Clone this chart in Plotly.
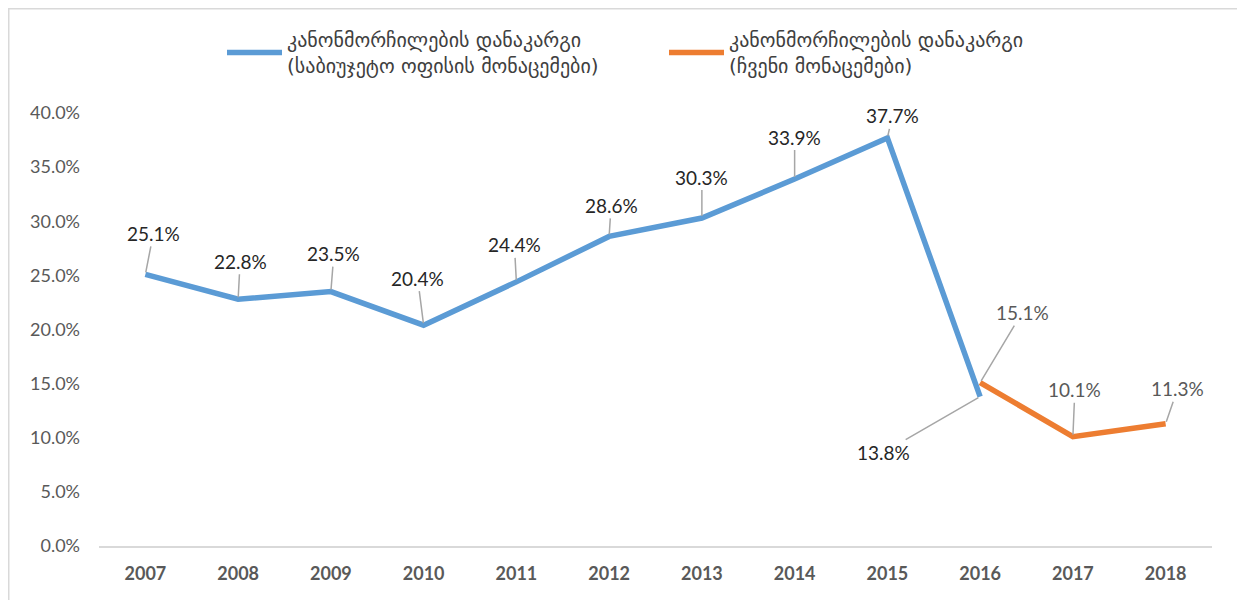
import plotly.graph_objects as go

years = ["2007", "2008", "2009", "2010", "2011", "2012", "2013", "2014", "2015", "2016", "2017", "2018"]
budget_years = years[:10]
budget_vals = [25.1, 22.8, 23.5, 20.4, 24.4, 28.6, 30.3, 33.9, 37.7, 13.8]
our_years = years[9:]
our_vals = [15.1, 10.1, 11.3]

name_budget = "კანონმორჩილების დანაკარგი<br>(საბიუჯეტო ოფისის მონაცემები)"
name_our = "კანონმორჩილების დანაკარგი<br>(ჩვენი მონაცემები)"

# label offsets (pixels) for leader-line data labels
budget_off = [(8, -41), (2, -38), (3, -38), (-6, -47), (-2, -37), (2, -31), (0, -41), (0, -42), (5, -22), (-97, 56)]
our_off = [(42, -70), (2, -47), (12, -35)]

BLUE = "#5B9BD5"
ORANGE = "#ED7D31"

# page body has an 8px default margin; the figure itself starts at (8, 8)
L, T, PW, PH = 91, 105, 1113, 433

fig = go.Figure()
fig.add_trace(go.Scatter(x=budget_years, y=budget_vals, mode="lines", name=name_budget,
                         line=dict(color=BLUE, width=5.5), hoverinfo="skip"))
fig.add_trace(go.Scatter(x=our_years, y=our_vals, mode="lines", name=name_our,
                         line=dict(color=ORANGE, width=5.5), hoverinfo="skip"))

label_font = "Lato, Open Sans, sans-serif"
for (x, y), (dx, dy) in zip(zip(budget_years, budget_vals), budget_off):
    fig.add_annotation(x=years.index(x), y=y, ax=dx, ay=dy, text=f"{y:.1f}%", showarrow=True,
                       arrowhead=0, arrowwidth=1.5, arrowcolor="#A6A6A6", standoff=2,
                       font=dict(family=label_font, size=19, color="#262626"))
for (x, y), (dx, dy) in zip(zip(our_years, our_vals), our_off):
    fig.add_annotation(x=years.index(x), y=y, ax=dx, ay=dy, text=f"{y:.1f}%", showarrow=True,
                       arrowhead=0, arrowwidth=1.5, arrowcolor="#A6A6A6", standoff=2,
                       font=dict(family=label_font, size=19, color="#595959"))

# chart frame
fig.add_shape(type="rect", xref="paper", yref="paper",
              x0=(0.75 - L) / PW, x1=(1231 - L) / PW,
              y0=(T + PH - 700) / PH, y1=(T + PH - 0.75) / PH,
              line=dict(color="#D9D9D9", width=1.5), layer="below")

fig.update_layout(
    width=1245, height=600,
    margin=dict(l=L, r=1245 - L - PW, t=T, b=600 - T - PH, autoexpand=False),
    plot_bgcolor="white", paper_bgcolor="white",
    showlegend=True,
    legend=dict(orientation="h", x=(214 - L) / PW, xanchor="left",
                y=(T + PH - 12) / PH, yanchor="top",
                entrywidth=372, entrywidthmode="pixels", itemwidth=55,
                font=dict(family="DejaVu Sans", size=20, color="#404040"),
                bgcolor="rgba(0,0,0,0)"),
    xaxis=dict(type="category", categoryorder="array", categoryarray=years,
               showgrid=False, showline=True, linecolor="#D9D9D9", linewidth=1.5,
               ticks="", zeroline=False, automargin=False, ticklabelstandoff=11,
               tickfont=dict(family=label_font, size=18, color="#595959", weight="bold"),
               range=[-0.5, 11.5]),
    yaxis=dict(range=[0, 40], dtick=5, tickformat=".1f", ticksuffix="%",
               showgrid=False, zeroline=False, showline=False, ticks="", automargin=False,
               tickfont=dict(family=label_font, size=18, color="#595959"),
               ticklabelstandoff=18),
)

fig.write_html("out.html")
